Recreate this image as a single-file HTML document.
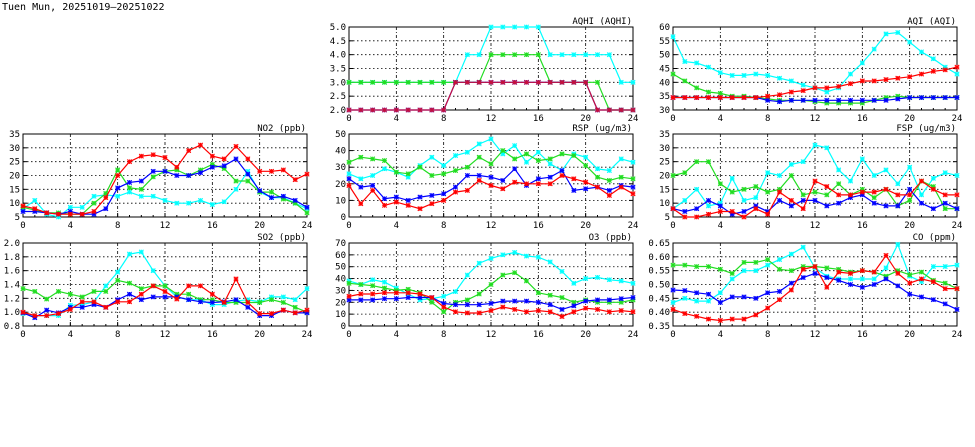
<!DOCTYPE html>
<html><head><meta charset="utf-8"><style>
html,body{margin:0;padding:0;background:#fff;width:975px;height:447px;overflow:hidden}
svg text{font-family:"DejaVu Sans Mono","Liberation Mono",monospace;font-size:9px;fill:#000}
</style></head><body>
<svg id="s" width="975" height="447" xmlns="http://www.w3.org/2000/svg">
<text x="2" y="10" style="font-size:10px">Tuen Mun, 20251019–20251022</text>
</svg>
<script>
const S=document.getElementById('s');const NS='http://www.w3.org/2000/svg';
function el(t,a,tx){const e=document.createElementNS(NS,t);for(const k in a)e.setAttribute(k,a[k]);if(tx!==undefined)e.textContent=tx;S.appendChild(e);return e;}
const C={c:'#00ffff',g:'#22dd22',b:'#0000ff',r:'#ff0000'};
const P=[
{t:'AQHI (AQHI)',x:349,y:27,lo:2,hi:5,st:0.5,f:1,d:{
c:[3,3,3,3,3,3,3,3,3,3,4,4,5,5,5,5,5,4,4,4,4,4,4,3,3],
g:[3,3,3,3,3,3,3,3,3,3,3,3,4,4,4,4,4,3,3,3,3,3,2,2,2],
b:[2,2,2,2,2,2,2,2,2,3,3,3,3,3,3,3,3,3,3,3,3,2,2,2,2],
r:[2,2,2,2,2,2,2,2,2,3,3,3,3,3,3,3,3,3,3,3,3,2,2,2,2]},rc:'#c8103c'},
{t:'AQI (AQI)',x:673,y:27,lo:30,hi:60,st:5,f:0,d:{
c:[56.5,47.5,47,45.5,43.5,42.5,42.5,43,42.5,41.5,40.5,39,38,36.5,38,43,47,52,57.5,58,54.5,51,48.5,45.5,43],
g:[43,40.5,38,36.5,36,35,35,34.5,34,33.5,33.5,33.5,33,32.5,32.5,32.5,32.5,33.5,34.5,35,34.5,34.5,34.5,34.5,34.5],
b:[34.5,34.5,34.5,34.5,34.5,34.5,34.5,34.5,33.5,33,33.5,33.5,33.5,33.5,33.5,33.5,33.5,33.5,33.5,34,34.5,34.5,34.5,34.5,34.5],
r:[34.5,34.5,34.5,34.5,34.5,34.5,34.5,34.5,35,35.5,36.5,37,38,38,38.5,39.5,40.5,40.5,41,41.5,42,43,44,44.5,45.5]}},
{t:'NO2 (ppb)',x:23,y:134,lo:5,hi:35,st:5,f:0,d:{
c:[8,11,6,5,8.5,8.5,12.5,13,12.5,14,12.5,12.5,11,10,10,11,9.5,10.5,15,21.5,14,12,12,10,8],
g:[8.5,7.5,6.5,6.5,6,6,10,13.5,22,15.5,15,19.5,21.5,22,20,22,24,22.5,18,18,14,14,11.5,10,6.5],
b:[7,7,6.5,6,7,6,6,8,15.5,17.5,18,21.5,21.5,20,20,21,23,23.5,26,20.5,14.5,12,12.5,11,8.5],
r:[9,8,6.5,6,6,6,7,12,20,25,27,27.5,26.5,23,29,31,27,26,30.5,26,21.5,21.5,22,18.5,20.5]}},
{t:'RSP (ug/m3)',x:349,y:134,lo:0,hi:50,st:10,f:0,d:{
c:[26,23,25,29,27,24,31,36,31,37,39,44,47,38,43,33,39,32,28,38,36,29,28,35,33],
g:[33,36,35,34,27,26,30,25,26,28,30,36,32,40,35,38,34,35,38,37,31,24,22,24,23],
b:[23,18,19,11,12,10,12,13,14,18,25,25,24,22,29,19,23,24,28,16,17,18,16,19,18],
r:[19,8,16,7,9,7,5,8,10,15,16,22,19,17,21,20,20,20,25,23,21,18,13,18,14]}},
{t:'FSP (ug/m3)',x:673,y:134,lo:5,hi:35,st:5,f:0,d:{
c:[8,11,15,9,10,19,11,12,21,20,24,25,31,30,22,18,26,20,22,17,23,13,19,21,20],
g:[20,21,25,25,17,14,15,16,14,15,20,13,14,13,17,13,15,12,15,9,11,18,16,8,8],
b:[8,7,8,11,9,6,7,9,7,11,9,11,11,9,10,12,13,10,9,9,15,10,8,10,8],
r:[8,5,5,6,7,7,5,8,6,14,11,8,18,16,13,13,14,14,15,13,13,18,15,13,13]}},
{t:'SO2 (ppb)',x:23,y:243,lo:0.8,hi:2.0,st:0.2,f:1,d:{
c:[.98,.95,.95,.95,1.1,1.11,1.15,1.38,1.58,1.84,1.87,1.6,1.38,1.22,1.18,1.18,1.11,1.11,1.16,1.18,1.15,1.22,1.22,1.18,1.34],
g:[1.34,1.3,1.19,1.3,1.26,1.22,1.3,1.3,1.46,1.42,1.34,1.38,1.38,1.26,1.26,1.18,1.18,1.14,1.14,1.14,1.14,1.18,1.14,1.07,1.0],
b:[.99,.92,1.03,.99,1.07,1.07,1.11,1.07,1.18,1.26,1.18,1.22,1.22,1.22,1.18,1.15,1.14,1.15,1.18,1.07,.95,.95,1.03,.99,.99],
r:[1.0,.95,.95,.98,1.04,1.15,1.15,1.07,1.15,1.15,1.26,1.38,1.3,1.19,1.38,1.38,1.26,1.14,1.48,1.14,.98,.98,1.03,.99,1.03]}},
{t:'O3 (ppb)',x:349,y:243,lo:0,hi:70,st:10,f:0,d:{
c:[38,35,39,37,32,27,22,23,25,29,43,53,57,60,62,59,58,54,46,36,40,41,39,38,36],
g:[36,35,34,32,30,31,28,20,12,20,22,27,35,43,45,38,28,26,24,20,22,20,20,20,22],
b:[22,22,22,23,23,24,24,24,19,18,18,18,19,21,21,21,20,18,14,17,21,22,22,23,24],
r:[25,27,27,28,28,28,27,24,16,12,11,11,13,16,14,12,13,12,8,12,15,14,12,13,12]}},
{t:'CO (ppm)',x:673,y:243,lo:0.35,hi:0.65,st:0.05,f:2,d:{
c:[.435,.45,.44,.44,.47,.52,.55,.55,.57,.59,.61,.635,.56,.53,.52,.52,.52,.52,.56,.645,.53,.51,.565,.565,.57],
g:[.57,.57,.565,.565,.555,.54,.58,.58,.59,.555,.55,.565,.565,.56,.555,.545,.55,.545,.53,.55,.535,.545,.515,.505,.485],
b:[.48,.478,.47,.465,.435,.455,.455,.45,.47,.475,.505,.525,.54,.525,.515,.5,.49,.5,.52,.495,.465,.455,.445,.43,.41],
r:[.41,.395,.385,.375,.37,.375,.375,.39,.415,.445,.48,.555,.565,.49,.545,.54,.55,.545,.605,.54,.505,.52,.51,.485,.485]}}
];
const W=284,H=83;
P.forEach(p=>{
  const X=i=>p.x+i*W/24, Y=v=>p.y+H-(v-p.lo)/(p.hi-p.lo)*H;
  const n=Math.round((p.hi-p.lo)/p.st);
  for(let k=0;k<=n;k++){const v=p.lo+k*p.st,y=Y(v);
    if(k>0&&k<n)el('line',{x1:p.x,x2:p.x+W,y1:y,y2:y,stroke:'#000','stroke-width':0.8,'stroke-dasharray':'1.5,2.5'});
    el('line',{x1:p.x,x2:p.x+4,y1:y,y2:y,stroke:'#000','stroke-width':1});
    el('line',{x1:p.x+W-4,x2:p.x+W,y1:y,y2:y,stroke:'#000','stroke-width':1});
    el('text',{x:p.x-3,y:y+3,'text-anchor':'end'},v.toFixed(p.f));}
  for(let h=0;h<=24;h+=4){const x=X(h);
    if(h>0&&h<24)el('line',{x1:x,x2:x,y1:p.y,y2:p.y+H,stroke:'#000','stroke-width':0.8,'stroke-dasharray':'3,2,1,2'});
    el('text',{x:x,y:p.y+H+11,'text-anchor':'middle'},h);}
  for(let h=0;h<=24;h++){el('line',{x1:X(h),x2:X(h),y1:p.y+H,y2:p.y+H-(h%4?2:4),stroke:'#000'});}
  el('rect',{x:p.x,y:p.y,width:W,height:H,fill:'none',stroke:'#000','stroke-width':1});
  el('text',{x:p.x+W-1,y:p.y-3,'text-anchor':'end'},p.t);
  ['c','g','b','r'].forEach(k=>{
    const col=(k=='r'&&p.rc)?p.rc:C[k];const d=p.d[k];
    let pts=d.map((v,i)=>X(i).toFixed(1)+','+Y(Math.max(p.lo,Math.min(p.hi,v))).toFixed(1)).join(' ');
    el('polyline',{points:pts,fill:'none',stroke:col,'stroke-width':1.2});
    d.forEach((v,i)=>{if(v<p.lo-1e-9||v>p.hi+1e-9)return;const x=X(i),y=Y(v),r=2.2;
      el('path',{d:`M${x-r},${y-r}L${x+r},${y+r}M${x-r},${y+r}L${x+r},${y-r}M${x-r},${y}L${x+r},${y}M${x},${y-r}L${x},${y+r}`,stroke:col,'stroke-width':1,fill:'none'});
      el('rect',{x:x-r,y:y-r,width:2*r,height:2*r,fill:col,'fill-opacity':0.3,stroke:'none'});});
  });
});
</script>
</body></html>
